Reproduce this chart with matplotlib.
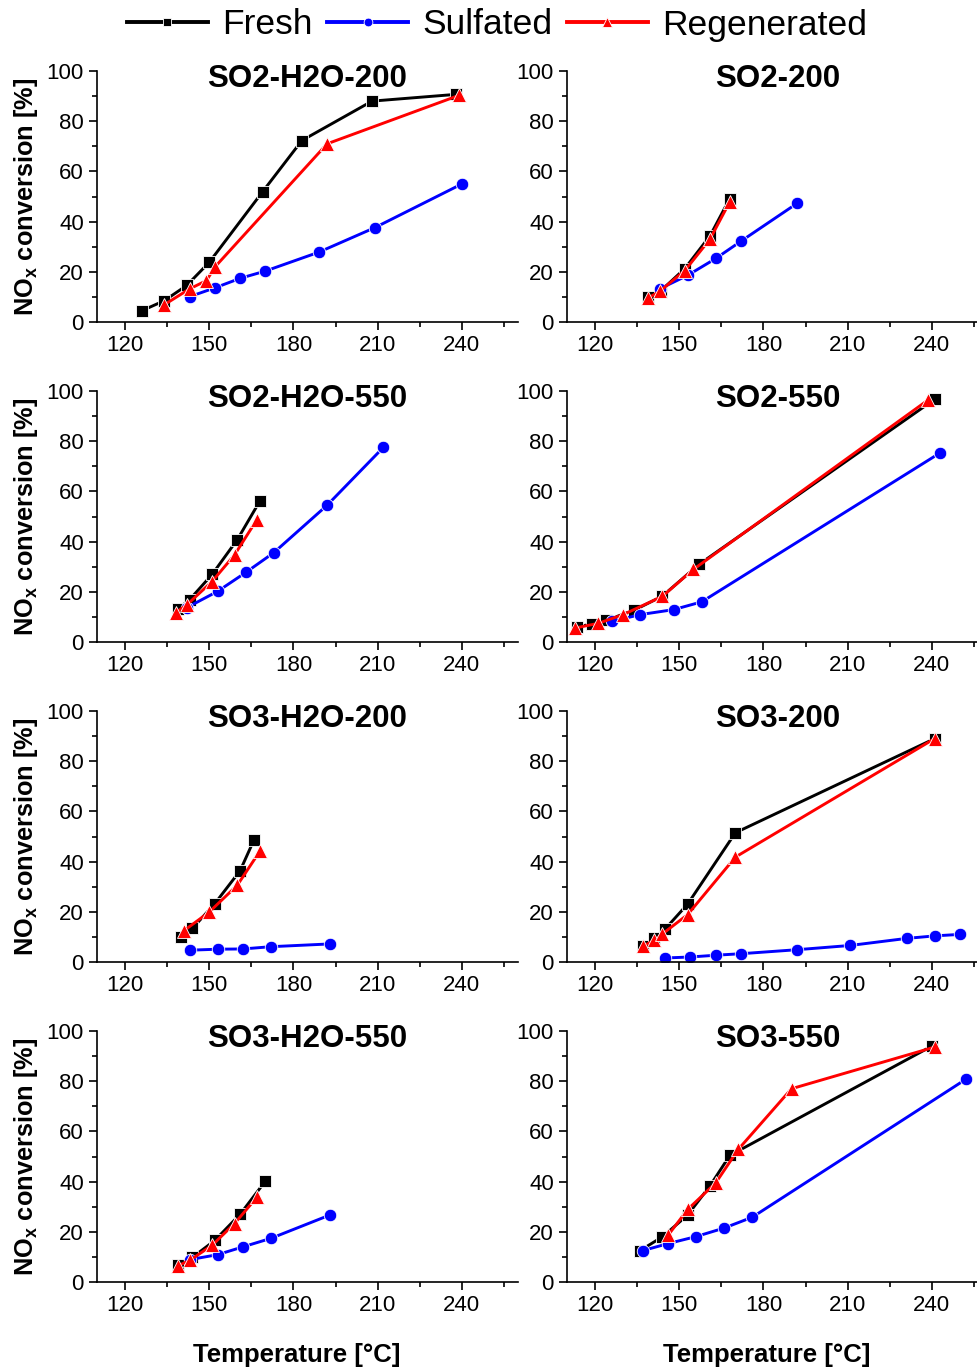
import numpy as np
import matplotlib
matplotlib.use("Agg")
import matplotlib.pyplot as plt
from matplotlib.ticker import MultipleLocator

plt.rcParams['font.family'] = ['Liberation Sans', 'DejaVu Sans']
plt.rcParams['mathtext.fontset'] = 'custom'
plt.rcParams['mathtext.rm'] = 'Liberation Sans'
plt.rcParams['mathtext.bf'] = 'Liberation Sans:bold'

# panel titles, row by row (left, right)
titles = ["SO2-H2O-200", "SO2-200",
          "SO2-H2O-550", "SO2-550",
          "SO3-H2O-200", "SO3-200",
          "SO3-H2O-550", "SO3-550"]

# Fresh: temperature [°C], NOx conversion [%]
fresh_T = [
    [126, 134, 142, 150, 169, 183, 208, 238],
    [139, 143.5, 152, 161, 168],
    [139, 143, 151, 160, 168],
    [113.7, 118.8, 123.9, 134, 144, 157, 241],
    [140, 144, 152, 161, 166],
    [137, 141, 145, 153, 170, 241],
    [139, 144, 152, 161, 170],
    [136, 144, 153, 161, 168, 240],
]
fresh_X = [
    [4.5, 8.5, 14.6, 23.8, 51.9, 72.3, 88, 90.7],
    [9.8, 12.5, 21.3, 34.4, 49.2],
    [13.2, 16.9, 26.9, 40.8, 56.1],
    [6, 7.2, 8.6, 12.7, 18.3, 30.9, 96.7],
    [10, 13.4, 23.3, 36.4, 48.8],
    [6.5, 9.4, 13.2, 23.1, 51.5, 89],
    [6.9, 9.8, 16.6, 27, 40.2],
    [12.5, 18, 26.7, 38.4, 50.4, 94],
]

# Sulfated
sulf_T = [
    [143, 152, 161, 170, 189, 209, 240],
    [143, 153, 163, 172, 192],
    [142, 153, 163, 173, 192, 212],
    [126, 136, 148, 158, 243],
    [143, 153, 162, 172, 193],
    [145, 154, 163, 172, 192, 211, 231, 241, 250],
    [143, 153, 162, 172, 193],
    [137, 146, 156, 166, 176, 252],
]
sulf_X = [
    [10.1, 13.6, 17.4, 20.3, 27.8, 37.6, 55],
    [13.2, 18.6, 25.3, 32.2, 47.3],
    [13.7, 20.2, 27.7, 35.6, 54.5, 77.5],
    [8.2, 10.9, 12.9, 16, 75.4],
    [4.7, 5.1, 5.2, 6.1, 7.2],
    [1.6, 2, 2.7, 3.3, 4.9, 6.6, 9.4, 10.4, 11],
    [8.9, 10.9, 14, 17.4, 26.7],
    [12.5, 15.3, 18.1, 21.5, 25.8, 80.7],
]

# Regenerated
regen_T = [
    [134, 143, 149, 152, 192, 239],
    [139, 143, 152, 161, 168],
    [138, 142, 151, 159, 167],
    [113, 121, 130, 144, 155, 238.5],
    [141, 150, 160, 168],
    [137, 141, 144, 153, 170, 241],
    [139, 143, 151, 159, 167],
    [146, 153, 163, 171, 190, 241],
]
regen_X = [
    [6.9, 13.2, 16.5, 21.9, 71, 90.3],
    [9.6, 12.2, 20.5, 33.1, 47.9],
    [11.7, 14.8, 24.1, 34.7, 48.8],
    [5.6, 7.4, 10.9, 18.2, 28.9, 96.3],
    [12.5, 19.9, 30.6, 44.1],
    [6.2, 8.6, 11.2, 18.9, 41.8, 89],
    [6.5, 8.6, 14.6, 23.3, 33.8],
    [18.6, 28.9, 39.5, 52.8, 77, 93.6],
]

W, H = 977, 1370
fig = plt.figure(figsize=(W / 100, H / 100), dpi=100)

lefts = [97, 567]
ax_w = 421
ax_h = 251
bottoms = [322, 642, 962, 1282]

axes = []
for i in range(8):
    row, col = divmod(i, 2)
    ax = fig.add_axes([lefts[col] / W, (H - bottoms[row]) / H, ax_w / W, ax_h / H])
    axes.append(ax)

    ax.plot(fresh_T[i], fresh_X[i], '-s', color='black', lw=2.1, ms=8,
            mec='white', mew=0.6, label='Fresh')
    ax.plot(sulf_T[i], sulf_X[i], '-o', color='#0000ff', lw=2.1, ms=9,
            mec='white', mew=0.6, label='Sulfated')
    ax.plot(regen_T[i], regen_X[i], '-^', color='#ff0000', lw=2.1, ms=9.5,
            mec='white', mew=0.6, label='Regenerated')

    ax.set_xlim(110, 260)
    ax.set_ylim(0, 100)
    ax.xaxis.set_major_locator(MultipleLocator(30))
    ax.xaxis.set_minor_locator(MultipleLocator(15))
    ax.yaxis.set_major_locator(MultipleLocator(20))
    ax.yaxis.set_minor_locator(MultipleLocator(10))
    ax.set_xticks([120, 150, 180, 210, 240])
    ax.spines['top'].set_visible(False)
    ax.spines['right'].set_visible(False)
    ax.spines['left'].set_linewidth(1.2)
    ax.spines['bottom'].set_linewidth(1.2)
    ax.tick_params(which='major', direction='out', length=6, width=1.2,
                   labelsize=16)
    ax.tick_params(which='minor', direction='out', length=3.5, width=1.2)
    ax.set_facecolor('none')
    ax.text(0.5, 0.97, titles[i], transform=ax.transAxes, ha='center',
            va='center', fontsize=22.5, fontweight='bold')

    if col == 0:
        ax.set_ylabel(r'NO$_\mathbf{x}$ conversion [%]', fontsize=18.3,
                      fontweight='bold', labelpad=5)
    if row == 3:
        ax.set_xlabel('Temperature [°C]', fontsize=18.5, fontweight='bold')
        ax.xaxis.set_label_coords(200 / ax_w, -0.245)

handles, labels = axes[0].get_legend_handles_labels()
leg = fig.legend(handles, labels, loc='center', bbox_to_anchor=(497 / W, 1 - 25 / H),
                 ncol=3, frameon=False, fontsize=25.5, handlelength=2.3,
                 markerscale=0.7, columnspacing=0.4, handletextpad=0.4)
for ln in leg.get_lines():
    ln.set_linewidth(2.8)

fig.savefig('out.png', dpi=100)
